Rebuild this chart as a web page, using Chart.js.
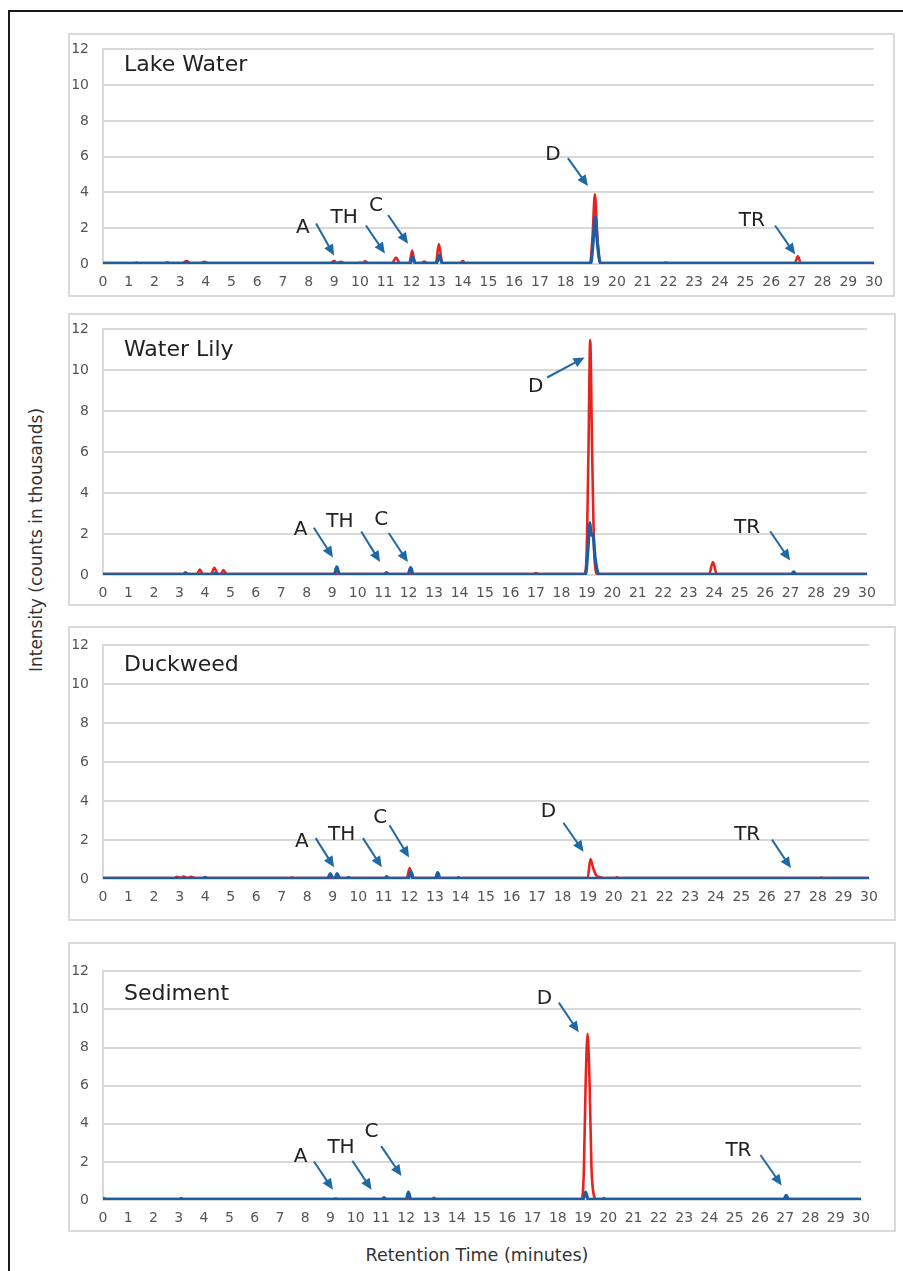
<!DOCTYPE html>
<html>
<head>
<meta charset="utf-8">
<script src="https://cdn.jsdelivr.net/npm/chart.js@4.4.1/dist/chart.umd.min.js"></script>
<style>
    body {
        margin: 0;
        background: #fff;
        width: 903px;
        height: 1271px;
        overflow: hidden;
        position: relative;
        font-family: "DejaVu Sans", Verdana, sans-serif;
    }
    .frame {
        position: absolute;
        left: 8px;
        top: 10px;
        width: 910px;
        height: 1300px;
        border-top: 2px solid #1a1a1a;
        border-left: 2px solid #1a1a1a;
    }
    .box {
        position: absolute;
        border: 2px solid #dadada;
        box-sizing: border-box;
    }
    canvas {
        position: absolute;
    }
    .ytitle {
        position: absolute;
        left: -164px;
        top: 530px;
        width: 400px;
        text-align: center;
        font-size: 17px;
        color: #333;
        transform: rotate(-90deg);
        white-space: nowrap;
    }
    .xtitle {
        position: absolute;
        left: 277px;
        top: 1245px;
        width: 400px;
        text-align: center;
        font-size: 17.5px;
        color: #333;
        white-space: nowrap;
    }
</style>
</head>
<body>
<div class="frame"></div>
<div class="ytitle">Intensity (counts in thousands)</div>
<div class="xtitle">Retention Time (minutes)</div>
<script>
// retention time (min) / intensity (thousands of counts) pairs
const lakeRed = [[0,0.05],[2.4,0.05],[2.5,0.09],[2.6,0.05],[3.1,0.05],[3.25,0.16],[3.4,0.05],[3.8,0.05],[3.95,0.13],[4.1,0.05],
    [8.85,0.05],[9.0,0.16],[9.1,0.06],[9.25,0.13],[9.4,0.05],[10.1,0.05],[10.2,0.15],[10.3,0.05],[11.25,0.05],[11.4,0.36],[11.55,0.05],
    [11.92,0.05],[12.03,0.75],[12.13,0.05],[12.4,0.05],[12.5,0.14],[12.6,0.05],[12.95,0.05],[13.07,1.11],[13.2,0.05],
    [13.9,0.05],[14.0,0.16],[14.1,0.05],[18.95,0.05],[19.05,1.6],[19.14,3.9],[19.24,1.4],[19.35,0.05],[21.8,0.05],[21.9,0.08],[22.0,0.05],
    [26.92,0.05],[27.04,0.43],[27.15,0.05],[30,0.05]]
const lakeBlue = [[0,0.03],[1.2,0.03],[1.3,0.07],[1.4,0.03],[3.15,0.03],[3.25,0.08],[3.35,0.03],[9.9,0.03],[10.0,0.07],[10.1,0.03],
    [11.96,0.03],[12.05,0.43],[12.15,0.03],[12.98,0.03],[13.08,0.48],[13.2,0.03],[18.98,0.03],[19.07,1.2],[19.15,2.64],[19.24,1.1],
    [19.36,0.03],[30,0.03]]

const lilyRed = [[0,0.05],[3.7,0.05],[3.8,0.27],[3.92,0.05],[4.25,0.05],[4.37,0.35],[4.5,0.06],[4.62,0.05],[4.73,0.24],[4.85,0.05],
    [16.9,0.05],[17.0,0.09],[17.1,0.05],[18.9,0.05],[18.98,0.7],[19.06,5.8],[19.13,11.48],[19.21,5.8],[19.3,0.8],[19.42,0.05],
    [23.8,0.05],[23.95,0.63],[24.1,0.05],[30,0.05]]
const lilyBlue = [[0,0.03],[3.15,0.03],[3.24,0.12],[3.33,0.03],[4.3,0.03],[4.4,0.08],[4.5,0.03],[9.08,0.03],[9.18,0.4],[9.28,0.03],
    [11.05,0.03],[11.13,0.12],[11.22,0.03],[11.98,0.03],[12.08,0.36],[12.18,0.03],[18.95,0.03],[19.04,1.2],[19.12,2.56],[19.17,1.95],
    [19.23,2.0],[19.33,0.8],[19.47,0.03],[27.02,0.03],[27.12,0.15],[27.22,0.03],[30,0.03]]

const duckRed = [[0,0.05],[2.8,0.05],[2.9,0.11],[3.05,0.06],[3.15,0.12],[3.3,0.06],[3.45,0.11],[3.6,0.05],[7.3,0.05],[7.4,0.08],[7.5,0.05],
    [11.9,0.05],[12.01,0.56],[12.12,0.05],[18.98,0.05],[19.09,1.02],[19.2,0.55],[19.32,0.18],[19.45,0.1],[19.6,0.05],
    [20.05,0.05],[20.12,0.09],[20.2,0.05],[28.05,0.05],[28.12,0.07],[28.2,0.05],[30,0.05]]
const duckBlue = [[0,0.03],[3.9,0.03],[4.0,0.09],[4.1,0.03],[8.8,0.03],[8.9,0.28],[9.0,0.04],[9.08,0.04],[9.17,0.28],[9.27,0.03],
    [9.55,0.03],[9.62,0.08],[9.7,0.03],[11.03,0.03],[11.1,0.12],[11.18,0.03],[11.97,0.03],[12.06,0.38],[12.16,0.03],
    [13.02,0.03],[13.11,0.33],[13.2,0.03],[13.85,0.03],[13.92,0.07],[14.0,0.03],[30,0.03]]

const sedRed = [[0,0.1],[0.2,0.05],[3.0,0.05],[3.1,0.1],[3.2,0.05],[9.1,0.05],[9.2,0.08],[9.3,0.05],[13.0,0.05],[13.1,0.11],[13.2,0.05],
    [18.95,0.05],[19.03,1.5],[19.1,6.0],[19.18,8.73],[19.26,6.0],[19.33,1.8],[19.42,0.3],[19.52,0.05],
    [19.75,0.05],[19.82,0.1],[19.9,0.05],[30,0.05]]
const sedBlue = [[0,0.03],[11.05,0.03],[11.12,0.13],[11.2,0.03],[12.0,0.03],[12.09,0.42],[12.18,0.03],[19.0,0.03],[19.1,0.42],
    [19.2,0.03],[26.95,0.03],[27.04,0.24],[27.13,0.03],[30,0.03]]

// peak labels: text spot, arrow tail, arrow head (in minutes / thousands)
const lakeMarks = [
    { text: "A", at: [7.78, 2.05], from: [8.29, 2.26], to: [8.99, 0.48] },
    { text: "TH", at: [9.38, 2.58], from: [10.23, 2.15], to: [10.97, 0.59] },
    { text: "C", at: [10.62, 3.23], from: [11.09, 2.74], to: [11.87, 1.13] },
    { text: "D", at: [17.51, 6.08], from: [18.09, 5.92], to: [18.87, 4.36] },
    { text: "TR", at: [25.25, 2.42], from: [26.15, 2.15], to: [26.93, 0.54] },
]
const lilyMarks = [
    { text: "A", at: [7.76, 2.2], from: [8.28, 2.31], to: [9.03, 0.86] },
    { text: "TH", at: [9.3, 2.6], from: [10.14, 2.13], to: [10.88, 0.63] },
    { text: "C", at: [10.93, 2.68], from: [11.22, 2.05], to: [11.97, 0.63] },
    { text: "D", at: [16.99, 9.21], from: [17.44, 9.65], to: [18.91, 10.63] },
    { text: "TR", at: [25.29, 2.31], from: [26.2, 2.13], to: [26.98, 0.71] },
]
const duckMarks = [
    { text: "A", at: [7.79, 1.92], from: [8.33, 2.1], to: [9.05, 0.6] },
    { text: "TH", at: [9.35, 2.27], from: [10.18, 2.1], to: [10.92, 0.6] },
    { text: "C", at: [10.86, 3.14], from: [11.22, 2.76], to: [11.99, 1.1] },
    { text: "D", at: [17.45, 3.47], from: [18.03, 2.89], to: [18.82, 1.4] },
    { text: "TR", at: [25.23, 2.27], from: [26.2, 2.02], to: [26.94, 0.56] },
]
const sedMarks = [
    { text: "A", at: [7.82, 2.28], from: [8.35, 2.02], to: [9.1, 0.54] },
    { text: "TH", at: [9.42, 2.73], from: [9.87, 2.06], to: [10.63, 0.54] },
    { text: "C", at: [10.63, 3.57], from: [11.01, 2.83], to: [11.81, 1.26] },
    { text: "D", at: [17.47, 10.57], from: [18.04, 10.36], to: [18.83, 8.8] },
    { text: "TR", at: [25.15, 2.56], from: [26.02, 2.36], to: [26.86, 0.76] },
]

const sampleNames = ["Lake Water", "Water Lily", "Duckweed", "Sediment"]
const timeRange = [0, 30]
const intensityRange = [0, 12]

const RED = "#e8231f"
const BLUE = "#1d5ea3"
const ARROW = "#1f69a6"

// box = outer grey frame, plot = chart area (left, top, right, bottom) in page px
const panels = [
    { name: sampleNames[0], red: lakeRed, blue: lakeBlue, marks: lakeMarks, box: [68, 33, 895, 297], plot: [103, 41, 874, 264], titleDrop: 16 },
    { name: sampleNames[1], red: lilyRed, blue: lilyBlue, marks: lilyMarks, box: [68, 313, 896, 606], plot: [103, 321, 867, 575], titleDrop: 21 },
    { name: sampleNames[2], red: duckRed, blue: duckBlue, marks: duckMarks, box: [68, 626, 896, 921], plot: [103, 637, 869, 879], titleDrop: 20 },
    { name: sampleNames[3], red: sedRed, blue: sedBlue, marks: sedMarks, box: [68, 942, 896, 1232], plot: [103, 963, 861, 1200], titleDrop: 23 },
]

const Y_W = 30
const X_H = 30

const toPoints = pairs => pairs.map(([x, y]) => ({ x, y }))

const peakLabels = {
    id: "peakLabels",
    afterDatasetsDraw(chart, args, opts) {
        const { ctx, chartArea, scales: { x, y } } = chart
        ctx.save()
        ctx.fillStyle = "#222"
        ctx.font = '22px "DejaVu Sans"'
        ctx.textAlign = "left"
        ctx.textBaseline = "middle"
        ctx.fillText(opts.title, chartArea.left + 21, chartArea.top + opts.titleDrop)

        ctx.font = '20px "DejaVu Sans"'
        ctx.textAlign = "center"
        opts.marks.forEach(m => {
            ctx.fillStyle = "#222"
            ctx.fillText(m.text, x.getPixelForValue(m.at[0]), y.getPixelForValue(m.at[1]))
            const x1 = x.getPixelForValue(m.from[0])
            const y1 = y.getPixelForValue(m.from[1])
            const x2 = x.getPixelForValue(m.to[0])
            const y2 = y.getPixelForValue(m.to[1])
            const ang = Math.atan2(y2 - y1, x2 - x1)
            const head = 11
            const half = 5
            ctx.strokeStyle = ARROW
            ctx.fillStyle = ARROW
            ctx.lineWidth = 2
            ctx.beginPath()
            ctx.moveTo(x1, y1)
            ctx.lineTo(x2 - Math.cos(ang) * head * 0.8, y2 - Math.sin(ang) * head * 0.8)
            ctx.stroke()
            ctx.beginPath()
            ctx.moveTo(x2, y2)
            ctx.lineTo(x2 - head * Math.cos(ang) + half * Math.sin(ang), y2 - head * Math.sin(ang) - half * Math.cos(ang))
            ctx.lineTo(x2 - head * Math.cos(ang) - half * Math.sin(ang), y2 - head * Math.sin(ang) + half * Math.cos(ang))
            ctx.closePath()
            ctx.fill()
        })
        ctx.restore()
    },
}

panels.forEach(p => {
    const [bl, bt, br, bb] = p.box
    const [pl, pt, pr, pb] = p.plot

    const box = document.createElement("div")
    box.className = "box"
    Object.assign(box.style, { left: bl + "px", top: bt + "px", width: br - bl + "px", height: bb - bt + "px" })
    document.body.append(box)

    const cLeft = bl + 2
    const cTop = pt - 14
    const cRight = br - 2
    const cBottom = pb + 34
    const canvas = document.createElement("canvas")
    canvas.width = cRight - cLeft
    canvas.height = cBottom - cTop
    Object.assign(canvas.style, { left: cLeft + "px", top: cTop + "px", width: canvas.width + "px", height: canvas.height + "px" })
    document.body.append(canvas)

    new Chart(canvas.getContext("2d"), {
        type: "line",
        data: {
            datasets: [
                { label: "blue", data: toPoints(p.blue), borderColor: BLUE, borderWidth: 3.2 },
                { label: "red", data: toPoints(p.red), borderColor: RED, borderWidth: 2.6 },
            ],
        },
        options: {
            responsive: false,
            animation: false,
            devicePixelRatio: 1,
            elements: {
                point: { radius: 0 },
                line: { cubicInterpolationMode: "monotone", borderJoinStyle: "round" },
            },
            layout: {
                padding: { top: 14, left: pl - cLeft - Y_W, right: cRight - pr, bottom: 34 - X_H },
            },
            plugins: {
                legend: { display: false },
                tooltip: { enabled: false },
                peakLabels: { title: p.name, titleDrop: p.titleDrop, marks: p.marks },
            },
            scales: {
                x: {
                    type: "linear",
                    min: timeRange[0],
                    max: timeRange[1],
                    afterFit: s => { s.height = X_H },
                    grid: { display: false, drawTicks: false },
                    border: { display: true, color: "#d9d9d9", width: 2 },
                    ticks: {
                        stepSize: 1,
                        padding: 10,
                        color: "#555",
                        font: { family: "DejaVu Sans", size: 14 },
                    },
                },
                y: {
                    min: intensityRange[0],
                    max: intensityRange[1],
                    afterFit: s => { s.width = Y_W },
                    grid: { color: "#d9d9d9", lineWidth: 2, drawTicks: false },
                    border: { display: true, color: "#d9d9d9", width: 2 },
                    ticks: {
                        stepSize: 2,
                        padding: 14,
                        color: "#555",
                        font: { family: "DejaVu Sans", size: 14 },
                    },
                },
            },
        },
        plugins: [peakLabels],
    })
})
</script>
</body>
</html>
